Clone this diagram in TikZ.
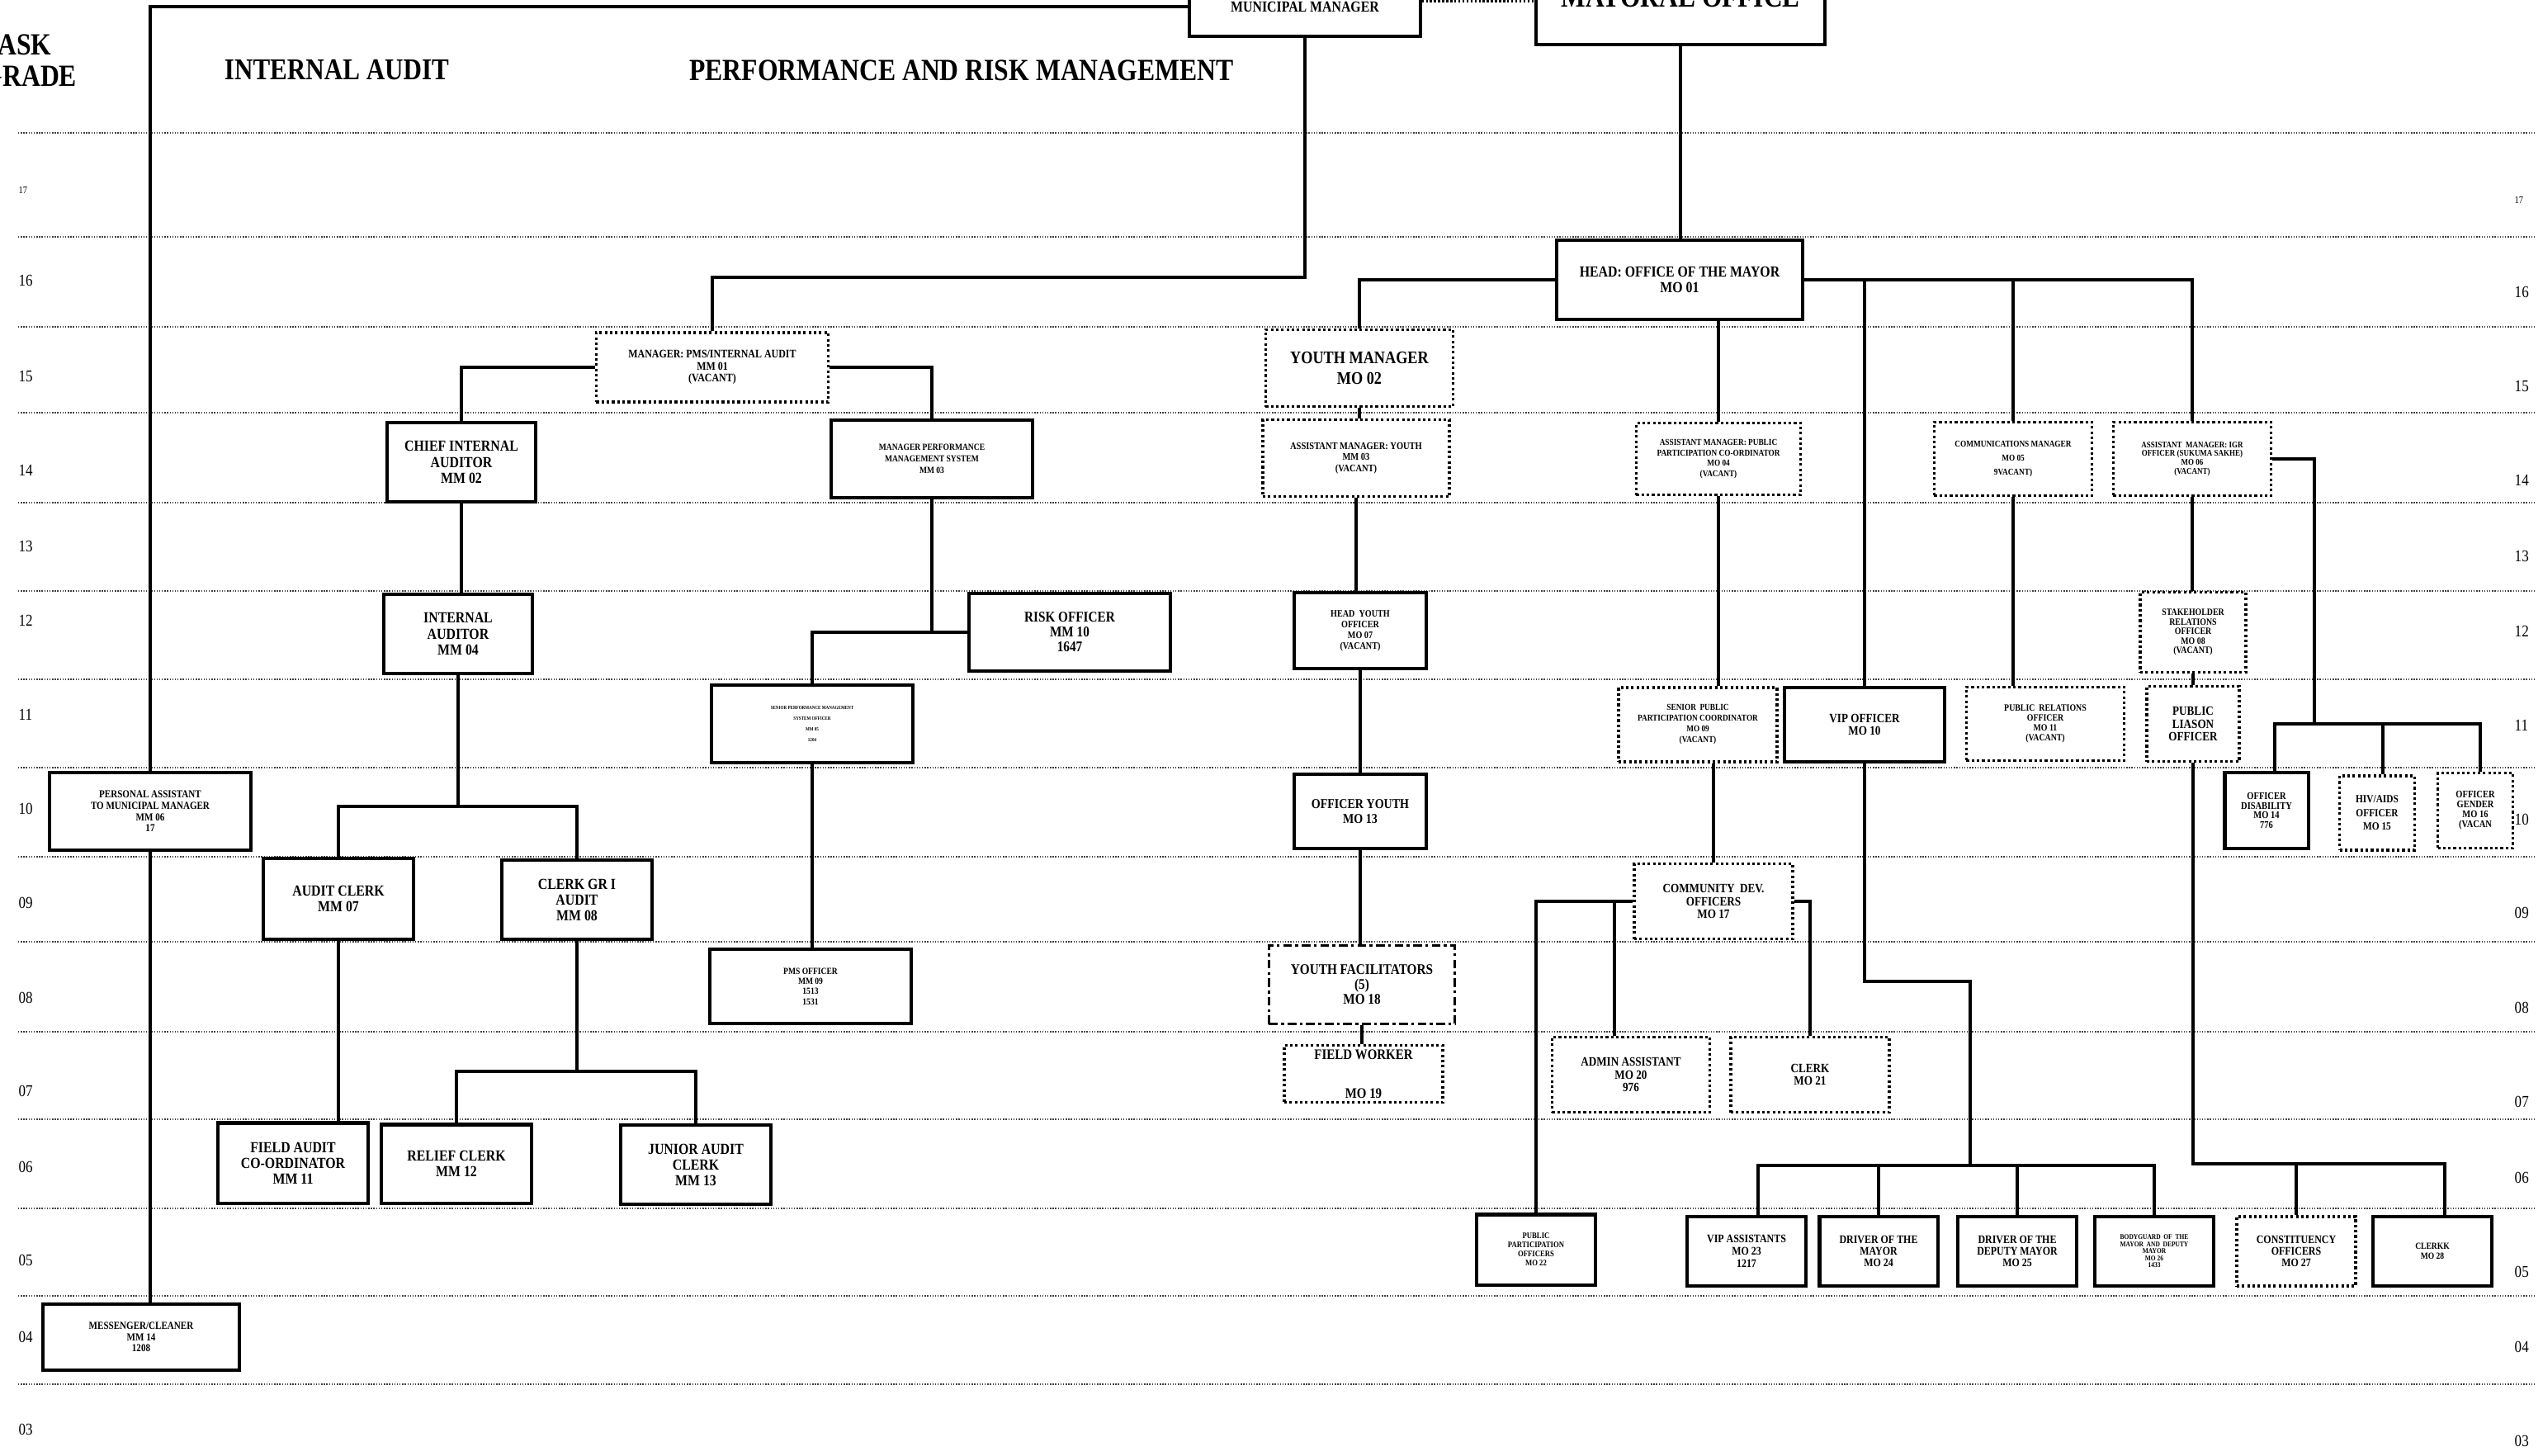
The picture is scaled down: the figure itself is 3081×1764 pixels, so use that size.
\documentclass[tikz,border=0pt]{standalone}
\usepackage{fontspec}
\setmainfont{Liberation Serif}[FakeStretch=0.85]
\newcommand{\orgfont}[2]{\fontsize{#1pt}{#2pt}\selectfont}

\begin{document}
\begin{tikzpicture}[x=0.01cm, y=-0.01cm]
    \tikzset{solidbox/.style 2 args={rectangle,draw=black,fill=white,line width=1.15pt,inner sep=0pt,align=center,font=\bfseries\orgfont{#1}{#2}}}
    \tikzset{vacantbox/.style 2 args={solidbox={#1}{#2},line width=1pt,dash pattern=on 0.9pt off 0.9pt}}
    \tikzset{facilbox/.style 2 args={solidbox={#1}{#2},line width=1pt,dash pattern=on 3pt off 1.2pt on 1pt off 1.2pt}}
    \tikzset{wire/.style={line width=0.9pt}}
    \tikzset{gridline/.style={line width=0.4pt,black!75,dash pattern=on 0.4pt off 0.5pt}}
    \tikzset{grade/.style={inner sep=0pt,anchor=west,font=\orgfont{5.7}{6}}}
    \tikzset{heading/.style={inner sep=0pt,font=\bfseries\orgfont{10.4}{11}}}

    \useasboundingbox (0,0) rectangle (3081,1764);

    % grade lines and grade numbers
    \foreach \gy in {161,287,396,500,609,716,823,930,1038,1141,1250,1356,1464,1570,1677}
        \draw[gridline] (22,\gy) -- (3070,\gy);
    \node[grade, font=\orgfont{3.5}{4}] (gl17) at (22,230) {17};
    \foreach \g/\gy in {16/340,15/456,14/570,13/662,12/752,11/866,10/980,09/1094,08/1209,07/1322,06/1414,05/1527,04/1620,03/1732}
        \node[grade] (gl\g) at (22,\gy) {\g};
    \node[grade, font=\orgfont{3.5}{4}] (gr17) at (3046,242) {17};
    \foreach \g/\gy in {16/354,15/468,14/582,13/674,12/765,11/879,10/993,09/1106,08/1221,07/1335,06/1427,05/1541,04/1632,03/1746}
        \node[grade] (gr\g) at (3046,\gy) {\g};

    % headings
    \node[heading, anchor=west, align=left, font=\bfseries\orgfont{10.6}{10.8}] (taskgrade) at (-22,73) {TASK\\GRADE};
    \node[heading] (iahead) at (408,85) {INTERNAL AUDIT};
    \node[heading, font=\bfseries\orgfont{10.6}{11}] (prhead) at (1165,85) {PERFORMANCE AND RISK MANAGEMENT};

    % top offices
    \node[solidbox={5.3}{5.6}, minimum width=2.79cm, minimum height=0.72cm] (mm) at (1581,8) {MUNICIPAL MANAGER};
    \node[solidbox={10.5}{11}, minimum width=3.50cm, minimum height=1.16cm] (mayor) at (2036,-4) {MAYORAL OFFICE};
    \node[solidbox={5.3}{5.6}, minimum width=2.98cm, minimum height=0.96cm] (head) at (2035,339) {HEAD: OFFICE OF THE MAYOR\\MO 01};

    % internal audit
    \node[vacantbox={4}{4.1}, minimum width=2.81cm, minimum height=0.84cm] (pmsia) at (863,445) {MANAGER: PMS/INTERNAL AUDIT\\MM 01\\(VACANT)};
    \node[solidbox={5.3}{5.5}, minimum width=1.80cm, minimum height=0.96cm] (cia) at (559,560) {CHIEF INTERNAL\\AUDITOR\\MM 02};
    \node[solidbox={5.3}{5.5}, minimum width=1.79cm, minimum height=0.95cm] (ia) at (555,768) {INTERNAL\\AUDITOR\\MM 04};
    \node[solidbox={5.3}{5.4}, minimum width=1.81cm, minimum height=0.97cm] (auditclerk) at (410,1089) {AUDIT CLERK\\MM 07};
    \node[solidbox={5.3}{5.4}, minimum width=1.82cm, minimum height=0.96cm] (clerkgr) at (699,1090) {CLERK GR I\\AUDIT\\MM 08};
    \node[solidbox={5.3}{5.4}, minimum width=1.81cm, minimum height=0.97cm] (fieldaudit) at (355,1409) {FIELD AUDIT\\CO-ORDINATOR\\MM 11};
    \node[solidbox={5.3}{5.4}, minimum width=1.82cm, minimum height=0.95cm] (relief) at (553,1410) {RELIEF CLERK\\MM 12};
    \node[solidbox={5.3}{5.4}, minimum width=1.81cm, minimum height=0.96cm] (junior) at (843,1411) {JUNIOR AUDIT\\CLERK\\MM 13};
    \node[solidbox={3.7}{3.9}, minimum width=2.43cm, minimum height=0.93cm] (pa) at (182,983) {PERSONAL ASSISTANT\\TO MUNICIPAL MANAGER\\MM 06\\17};
    \node[solidbox={3.7}{3.8}, minimum width=2.38cm, minimum height=0.80cm] (msg) at (171,1620) {MESSENGER/CLEANER\\MM 14\\1208};

    % performance and risk management
    \node[solidbox={3.2}{4}, minimum width=2.44cm, minimum height=0.94cm] (mpms) at (1129,556) {MANAGER PERFORMANCE\\MANAGEMENT SYSTEM\\MM 03};
    \node[solidbox={5.1}{5.1}, minimum width=2.43cm, minimum height=0.94cm] (risk) at (1296,766) {RISK OFFICER\\MM 10\\1647};
    \node[solidbox={1.7}{3.7}, minimum width=2.43cm, minimum height=0.94cm] (spms) at (984,877) {SENIOR PERFORMANCE MANAGEMENT\\SYSTEM OFFICER\\MM 05\\1204};
    \node[solidbox={3.2}{3.5}, minimum width=2.44cm, minimum height=0.90cm] (pmso) at (982,1195) {PMS OFFICER\\MM 09\\1513\\1531};

    % youth
    \node[vacantbox={6.1}{7.1}, minimum width=2.27cm, minimum height=0.93cm] (youthmgr) at (1647,446) {YOUTH MANAGER\\MO 02};
    \node[vacantbox={3.5}{3.8}, minimum width=2.26cm, minimum height=0.93cm] (amy) at (1643,555) {ASSISTANT MANAGER: YOUTH\\MM 03\\(VACANT)};
    \node[solidbox={3.4}{3.7}, minimum width=1.60cm, minimum height=0.92cm] (hyo) at (1648,764) {HEAD~~YOUTH\\OFFICER\\MO 07\\(VACANT)};
    \node[solidbox={4.7}{4.9}, minimum width=1.60cm, minimum height=0.90cm] (oy) at (1648,983) {OFFICER YOUTH\\MO 13};
    \node[facilbox={5.1}{5.1}, minimum width=2.25cm, minimum height=0.95cm] (yf) at (1650,1193) {YOUTH FACILITATORS\\(5)\\MO 18};
    \node[vacantbox={5}{5.5}, minimum width=1.92cm, minimum height=0.69cm] (fw) at (1652,1301) {FIELD WORKER\\[8pt]MO 19};

    % public participation
    \node[vacantbox={3.1}{3.6}, minimum width=1.99cm, minimum height=0.87cm] (ampp) at (2082,556) {ASSISTANT MANAGER: PUBLIC\\PARTICIPATION CO-ORDINATOR\\MO 04\\(VACANT)};
    \node[vacantbox={3.1}{3.7}, minimum width=1.92cm, minimum height=0.90cm] (spp) at (2057,878) {SENIOR~~PUBLIC\\PARTICIPATION COORDINATOR\\MO 09\\(VACANT)};
    \node[vacantbox={4.4}{4.3}, minimum width=1.92cm, minimum height=0.91cm] (cdo) at (2076,1092) {COMMUNITY~~DEV.\\OFFICERS\\MO 17};
    \node[vacantbox={4.4}{4.4}, minimum width=1.91cm, minimum height=0.91cm] (admin) at (1976,1302) {ADMIN ASSISTANT\\MO 20\\976};
    \node[vacantbox={4.4}{4.3}, minimum width=1.92cm, minimum height=0.91cm] (clerk21) at (2193,1302) {CLERK\\MO 21};
    \node[solidbox={2.9}{3.1}, minimum width=1.44cm, minimum height=0.85cm] (ppo) at (1861,1514) {PUBLIC\\PARTICIPATION\\OFFICERS\\MO 22};

    % vip, communications, igr
    \node[solidbox={4.4}{4.5}, minimum width=1.93cm, minimum height=0.90cm] (vip) at (2259,878) {VIP OFFICER\\MO 10};
    \node[vacantbox={3.1}{4.8}, minimum width=1.91cm, minimum height=0.89cm] (comm) at (2439,556) {COMMUNICATIONS MANAGER\\MO 05\\9VACANT)};
    \node[vacantbox={3.3}{3.4}, minimum width=1.91cm, minimum height=0.89cm] (pro) at (2478,877) {PUBLIC~~RELATIONS\\OFFICER\\MO 11\\(VACANT)};
    \node[vacantbox={3}{3.1}, minimum width=1.91cm, minimum height=0.89cm] (igr) at (2656,556) {ASSISTANT~~MANAGER: IGR\\OFFICER (SUKUMA SAKHE)\\MO 06\\(VACANT)};
    \node[vacantbox={3.3}{3.3}, minimum width=1.28cm, minimum height=0.97cm] (stake) at (2657,766) {STAKEHOLDER\\RELATIONS\\OFFICER\\MO 08\\(VACANT)};
    \node[vacantbox={4.4}{4.5}, minimum width=1.12cm, minimum height=0.91cm] (liason) at (2657,877) {PUBLIC\\LIASON\\OFFICER};
    \node[solidbox={3.5}{3.4}, minimum width=1.01cm, minimum height=0.91cm] (disab) at (2746,982) {OFFICER\\DISABILITY\\MO 14\\776};
    \node[vacantbox={3.8}{4.7}, minimum width=0.91cm, minimum height=0.90cm] (hiv) at (2880,985) {HIV/AIDS\\OFFICER\\MO 15};
    \node[vacantbox={3.5}{3.4}, minimum width=0.91cm, minimum height=0.91cm] (gender) at (2999,982) {OFFICER\\GENDER\\MO 16\\(VACAN};

    % grade 05 row
    \node[solidbox={4}{4.2}, minimum width=1.44cm, minimum height=0.84cm] (vipasst) at (2116,1516) {VIP ASSISTANTS\\MO 23\\1217};
    \node[solidbox={4}{3.9}, minimum width=1.43cm, minimum height=0.84cm] (driver1) at (2276,1516) {DRIVER OF THE\\MAYOR\\MO 24};
    \node[solidbox={4}{3.9}, minimum width=1.44cm, minimum height=0.84cm] (driver2) at (2444,1516) {DRIVER OF THE\\DEPUTY MAYOR\\MO 25};
    \node[solidbox={2.5}{2.4}, minimum width=1.44cm, minimum height=0.84cm] (bodyg) at (2610,1516) {BODYGUARD~~OF~~THE\\MAYOR~~AND~~DEPUTY\\MAYOR\\MO 26\\1433};
    \node[vacantbox={4}{3.9}, minimum width=1.44cm, minimum height=0.84cm] (const) at (2782,1516) {CONSTITUENCY\\OFFICERS\\MO 27};
    \node[solidbox={3.2}{3.4}, minimum width=1.44cm, minimum height=0.84cm] (clerkk) at (2947,1516) {CLERKK\\MO 28};

    % bus levels and offset drop points
    \coordinate (mmbus) at (0,336);
    \coordinate (iabus) at (0,977);
    \coordinate (cgbus) at (0,1298);
    \coordinate (vipturn) at (2387,1189);
    \coordinate (vipbus) at (0,1412);
    \coordinate (igrturn) at (2804,877);
    \coordinate (plbus) at (0,1410);
    \coordinate (admintop) at ([xshift=-0.2cm]admin.north);
    \coordinate (vipassttop) at ([xshift=0.14cm]vipasst.north);
    \coordinate (disabtop) at ([xshift=0.1cm]disab.north);
    \coordinate (hivtop) at ([xshift=0.07cm]hiv.north);
    \coordinate (gendertop) at ([xshift=0.06cm]gender.north);
    \coordinate (clerkktop) at ([xshift=0.15cm]clerkk.north);
    \coordinate (mmdot) at ([yshift=0.07cm]mm.east);

    % connectors
    \draw[wire, dash pattern=on 0.7pt off 0.7pt] (mmdot) -- (mmdot -| mayor.west);
    \draw[wire] (mm.west) -| (pa.north);
    \draw[wire] (pa.south) -- (pa.south |- msg.north);
    \draw[wire] (mm.south) -- (mm.south |- mmbus) -| (pmsia.north);
    \draw[wire] (pmsia.west) -| (cia.north);
    \draw[wire] (pmsia.east) -| (mpms.north);
    \draw[wire] (cia.south) -- (cia.south |- ia.north);
    \draw[wire] (ia.south) -- (ia.south |- iabus);
    \draw[wire] (auditclerk.north) |- (iabus -| clerkgr.north) -- (clerkgr.north);
    \draw[wire] (auditclerk.south) -- (auditclerk.south |- fieldaudit.north);
    \draw[wire] (clerkgr.south) -- (clerkgr.south |- cgbus);
    \draw[wire] (relief.north) |- (cgbus -| junior.north) -- (junior.north);
    \draw[wire] (mpms.south) |- (risk.west);
    \draw[wire] (risk.west) -| (spms.north);
    \draw[wire] (spms.south) -- (spms.south |- pmso.north);

    \draw[wire] (mayor.south) -- (mayor.south |- head.north);
    \draw[wire] (head.west) -| (youthmgr.north);
    \draw[wire] (youthmgr.south) -- (youthmgr.south |- amy.north);
    \draw[wire] (amy.south) -- (amy.south |- hyo.north);
    \draw[wire] (hyo.south) -- (hyo.south |- oy.north);
    \draw[wire] (oy.south) -- (oy.south |- yf.north);
    \draw[wire] (yf.south) -- (yf.south |- fw.north);

    \draw[wire] (ampp.north |- head.south) -- (ampp.north);
    \draw[wire] (ampp.south) -- (ampp.south |- spp.north);
    \draw[wire] (cdo.north |- spp.south) -- (cdo.north);
    \draw[wire] (cdo.west) -| (ppo.north);
    \draw[wire] (admintop) -- (admintop |- cdo.west);
    \draw[wire] (cdo.east) -| (clerk21.north);

    \draw[wire] (head.east) -| (igr.north);
    \draw[wire] (vip.north |- head.east) -- (vip.north);
    \draw[wire] (comm.north |- head.east) -- (comm.north);
    \draw[wire] (comm.south) -- (comm.south |- pro.north);
    \draw[wire] (vip.south) |- (vipturn) -- (vipturn |- vipbus);
    \draw[wire] (vipassttop) |- (vipbus -| bodyg.north) -- (bodyg.north);
    \draw[wire] (driver1.north) -- (driver1.north |- vipbus);
    \draw[wire] (driver2.north) -- (driver2.north |- vipbus);

    \draw[wire] (igr.south) -- (igr.south |- stake.north);
    \draw[wire] (stake.south) -- (stake.south |- liason.north);
    \draw[wire] (igr.east) -| (igrturn);
    \draw[wire] (disabtop) |- (igrturn -| gendertop) -- (gendertop);
    \draw[wire] (hivtop) -- (hivtop |- igrturn);
    \draw[wire] (liason.south) -- (liason.south |- plbus) -| (clerkktop);
    \draw[wire] (const.north) -- (const.north |- plbus);
\end{tikzpicture}
\end{document}
